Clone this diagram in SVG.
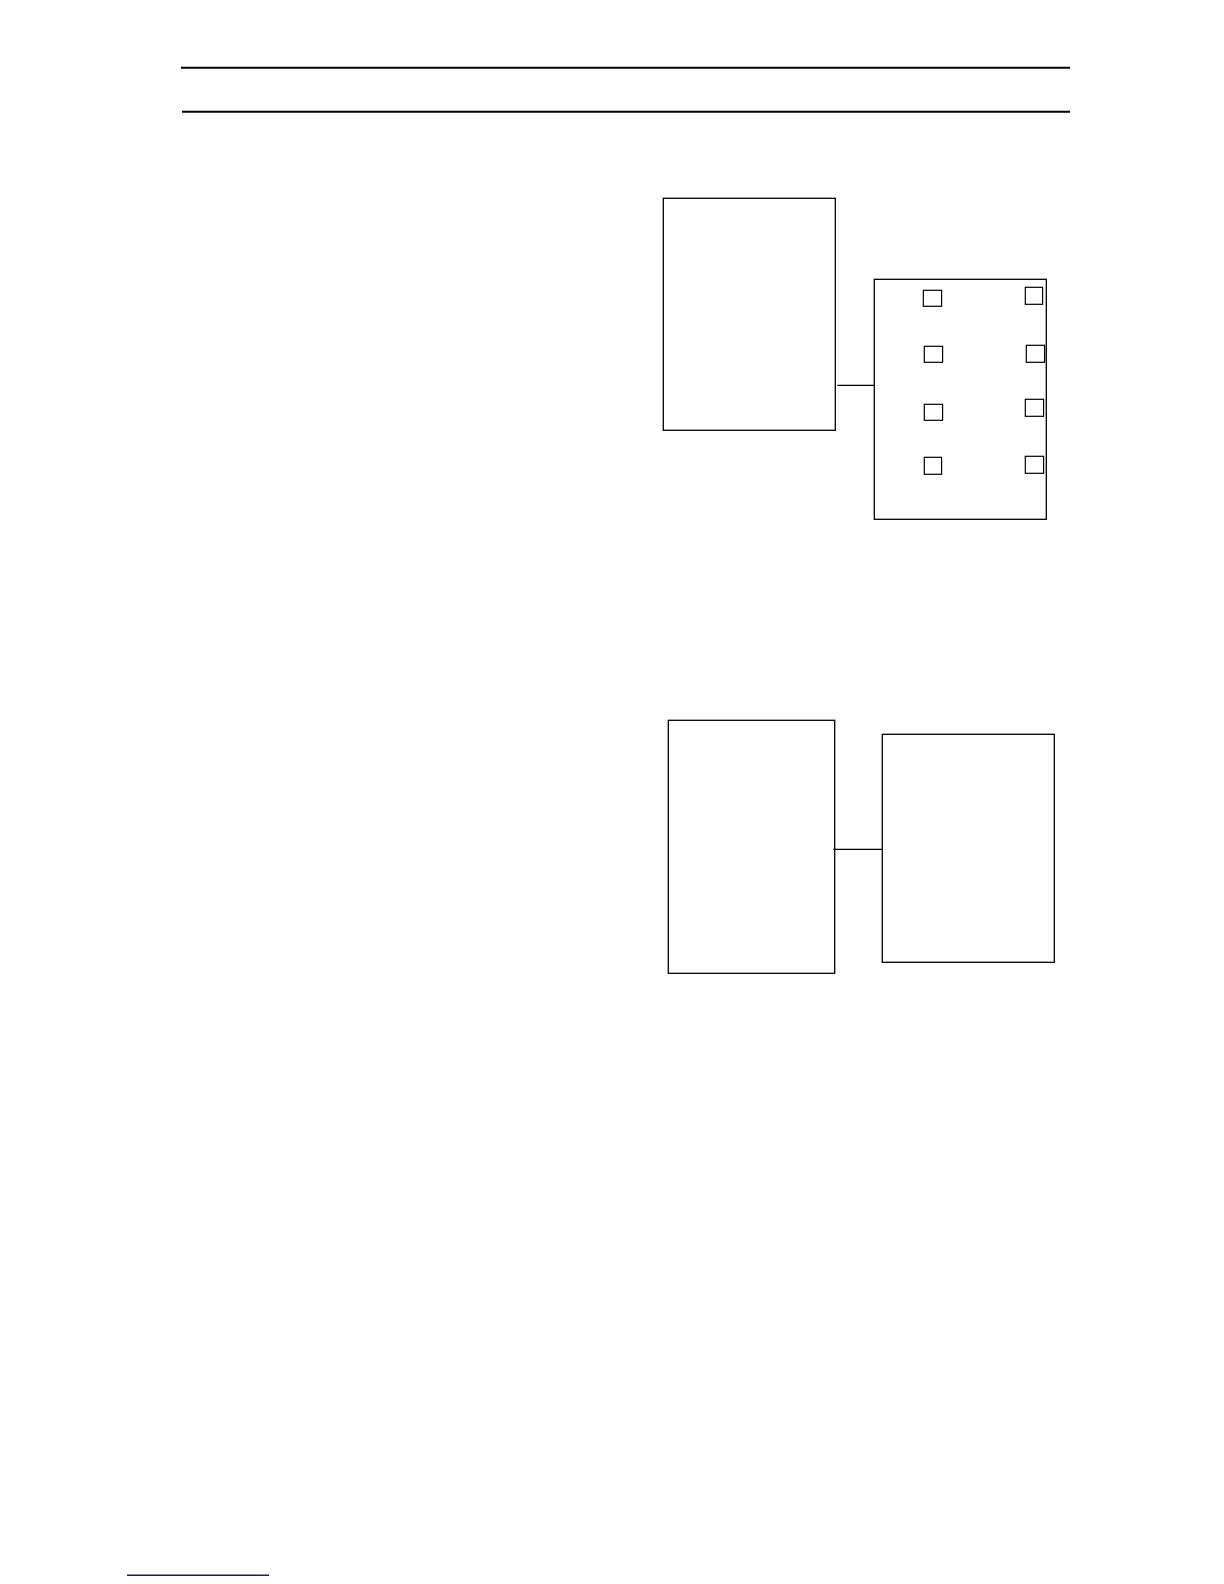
<svg xmlns="http://www.w3.org/2000/svg" width="1224" height="1584" viewBox="0 0 1224 1584">
<style>
.box{fill:none;stroke:#000;stroke-width:1.3}
.sq{fill:none;stroke:#000;stroke-width:1.2}
.conn{stroke:#000;stroke-width:1.3;fill:none}
.rule{stroke:#000;stroke-width:2;fill:none}
</style>
<rect width="1224" height="1584" fill="#fff"/>
<g id="header">
<line class="rule" x1="181" y1="67.7" x2="1070" y2="67.7"/>
<line class="rule" x1="182" y1="111.8" x2="1070" y2="111.8"/>
</g>
<g id="node-top-left"><rect class="box" x="663.3" y="198.3" width="172" height="232"/></g>
<g id="node-top-right">
<rect class="box" x="874.3" y="279.3" width="172" height="240"/>
<rect class="sq" x="923.3" y="290.3" width="18.3" height="16"/>
<rect class="sq" x="924.3" y="346.3" width="18.3" height="16"/>
<rect class="sq" x="924.3" y="404.3" width="18.3" height="16"/>
<rect class="sq" x="924.3" y="457.3" width="17.3" height="17"/>
<rect class="sq" x="1025.3" y="287.3" width="17.3" height="17"/>
<rect class="sq" x="1026.3" y="345.3" width="18.3" height="17"/>
<rect class="sq" x="1025.3" y="399.3" width="18.3" height="17"/>
<rect class="sq" x="1025.3" y="456.3" width="18.3" height="17"/>
</g>
<g id="node-bottom-left"><rect class="box" x="668.3" y="720.3" width="166.4" height="253"/></g>
<g id="node-bottom-right"><rect class="box" x="882.3" y="734.3" width="172" height="228"/></g>
<g id="connectors">
<line class="conn" x1="837.3" y1="385.3" x2="874.3" y2="385.3"/>
<line class="conn" x1="833.3" y1="849.3" x2="882.3" y2="849.3"/>
</g>
<g id="footer"><line x1="127" y1="1575.3" x2="269" y2="1575.3" stroke="#14148c" stroke-width="1.5"/></g>
</svg>
